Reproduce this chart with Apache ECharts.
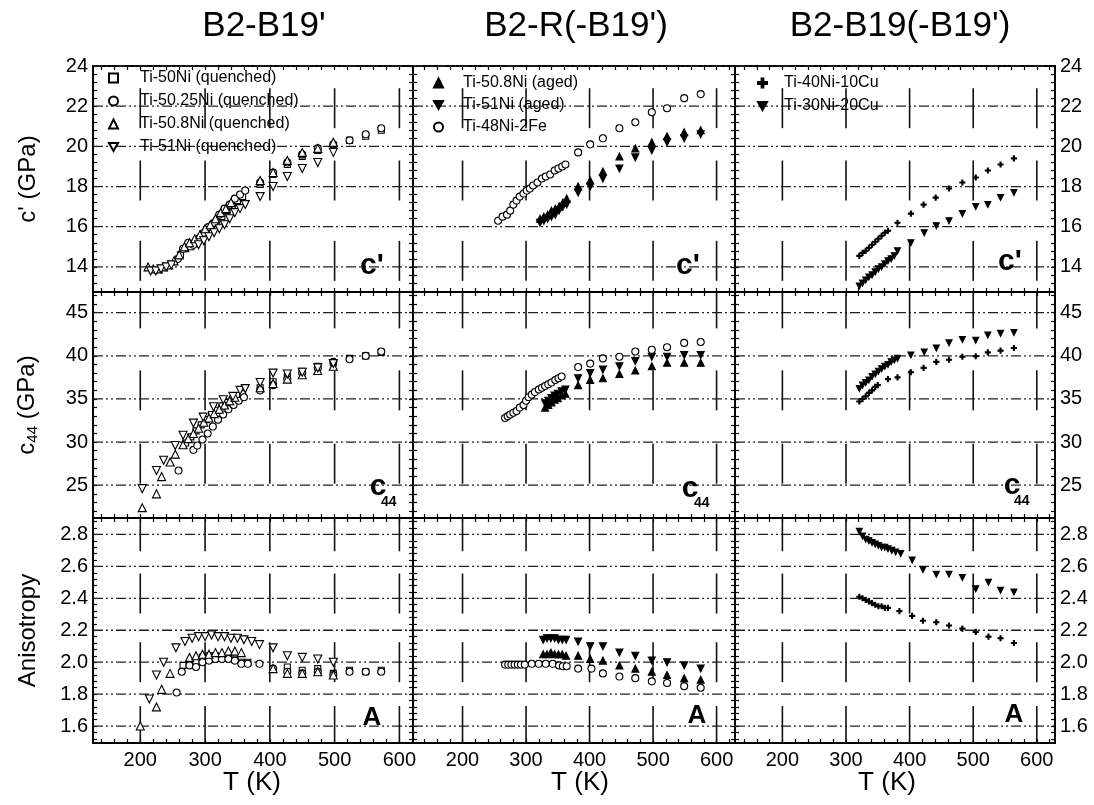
<!DOCTYPE html>
<html>
<head>
<meta charset="utf-8">
<script src="https://cdn.jsdelivr.net/npm/echarts@6/dist/echarts.min.js"></script>
<style>
  html, body { margin: 0; padding: 0; background: #fff; }
  #chart { width: 1094px; height: 805px; }
</style>
</head>
<body>
<div id="chart"></div>
<script>
// ---- data: [T (K), value] ----
// B2-B19' (quenched)
const q50Cp = [[262,14.6],[270,14.9],[278,15.0],[286,15.2],[294,15.5],[302,15.8],[310,16.0],[318,16.3],[326,16.5],[334,16.8],[342,17.0],[350,17.3],[358,17.5],[385,18.1],[405,18.6],[427,19.1],[450,19.5],[474,19.8],[498,20.0],[523,20.3],[548,20.5],[572,20.8]];
const q5025Cp = [[258,14.4],[266,14.9],[274,15.2],[282,15.1],[290,15.4],[298,15.7],[306,16.0],[314,16.2],[322,16.6],[330,16.9],[338,17.1],[346,17.4],[354,17.6],[362,17.8],[385,18.2],[405,18.7],[427,19.2],[450,19.6],[474,19.9],[498,20.1],[523,20.3],[548,20.6],[572,20.9]];
const q508Cp = [[212,14.0],[220,13.9],[228,13.9],[236,14.0],[244,14.1],[252,14.3],[260,14.6],[268,15.0],[276,15.2],[284,15.4],[292,15.6],[300,15.9],[308,16.1],[316,16.4],[324,16.7],[332,16.9],[340,17.2],[385,18.3],[405,18.7],[427,19.3],[450,19.7],[474,19.9],[498,20.2]];
const q51Cp = [[216,13.8],[224,13.8],[232,13.9],[240,14.0],[248,14.1],[290,15.1],[298,15.3],[306,15.5],[314,15.7],[322,15.9],[330,16.1],[338,16.4],[346,16.7],[354,16.9],[362,17.1],[385,17.5],[405,18.0],[427,18.5],[450,18.9],[474,19.2],[498,19.7]];

const q50C44 = [[270,29.9],[278,30.6],[286,31.3],[294,32.0],[302,32.6],[310,33.2],[318,33.7],[326,34.2],[334,34.6],[342,35.0],[350,35.4],[358,35.6],[385,36.3],[405,37.0],[427,37.6],[450,38.2],[474,38.8],[498,39.2],[523,39.7],[548,40.0],[572,40.4]];
const q5025C44 = [[259,26.7],[282,29.1],[288,29.6],[296,30.3],[304,31.0],[312,31.8],[320,32.6],[328,33.2],[336,33.8],[344,34.3],[352,34.8],[360,35.2],[385,36.0],[405,36.6],[427,37.3],[450,38.0],[474,38.6],[498,39.3],[523,39.6],[548,40.0],[572,40.5]];
const q508C44 = [[203,22.4],[225,24.0],[233,26.0],[246,27.7],[254,28.6],[266,29.7],[274,30.4],[282,31.0],[290,31.6],[298,32.3],[306,32.8],[314,33.3],[322,33.8],[330,34.3],[338,34.8],[346,35.2],[385,36.3],[405,36.8],[427,37.3],[450,37.8],[474,38.3],[498,38.8]];
const q51C44 = [[203,24.6],[225,26.7],[236,27.9],[254,29.6],[266,30.8],[282,32.2],[297,32.9],[313,34.1],[328,34.9],[343,35.3],[354,36.0],[362,36.2],[385,36.9],[405,38.0],[427,37.9],[450,38.1],[474,38.6],[498,39.1]];

const q50A = [[266,1.98],[276,2.0],[286,2.0],[296,2.03],[306,2.04],[316,2.04],[326,2.03],[336,2.03],[346,2.02],[356,2.0],[366,2.0],[427,1.97],[450,1.95],[474,1.96],[498,1.93],[523,1.95],[548,1.94],[572,1.95]];
const q5025A = [[256,1.81],[264,1.94],[276,1.98],[286,1.97],[296,2.0],[306,2.01],[316,2.02],[326,2.02],[336,2.02],[346,2.01],[356,1.99],[366,1.99],[384,1.99],[405,1.96],[427,1.94],[450,1.93],[474,1.94],[498,1.92],[523,1.94],[548,1.94],[572,1.94]];
const q508A = [[200,1.6],[225,1.72],[233,1.83],[246,1.93],[276,2.03],[286,2.04],[296,2.05],[306,2.05],[316,2.06],[326,2.06],[336,2.07],[346,2.07],[356,2.06],[405,1.96],[427,1.93],[450,1.93],[474,1.94],[498,1.92]];
const q51A = [[214,1.77],[225,1.92],[236,2.0],[255,2.09],[269,2.13],[280,2.15],[290,2.16],[300,2.16],[310,2.17],[320,2.16],[330,2.16],[340,2.15],[350,2.15],[360,2.14],[372,2.13],[384,2.11],[405,2.09],[427,2.04],[450,2.03],[474,2.02],[498,2.0]];

// B2-R(-B19')
const a508Cp = [[322,16.4],[328,16.5],[334,16.6],[340,16.8],[346,16.9],[352,17.0],[358,17.2],[364,17.4],[382,18.0],[401,18.3],[421,18.75],[447,19.5],[472,19.9],[498,20.2],[522,20.5],[549,20.7],[575,20.8]];
const a51Cp = [[322,16.2],[328,16.3],[334,16.4],[340,16.5],[346,16.6],[352,16.8],[358,17.0],[364,17.1],[382,17.7],[401,18.0],[421,18.4],[447,18.9],[472,19.45],[498,19.8],[522,20.2],[549,20.4],[575,20.6]];
const feCp = [[256,16.3],[263,16.5],[270,16.6],[275,16.8],[280,17.1],[285,17.3],[290,17.5],[296,17.65],[301,17.8],[306,17.9],[311,18.05],[318,18.2],[325,18.4],[331,18.5],[338,18.6],[345,18.8],[351,18.9],[357,19.0],[362,19.1],[382,19.7],[401,20.1],[421,20.4],[447,20.9],[472,21.2],[498,21.7],[522,21.9],[549,22.4],[575,22.6]];

const a508C44 = [[330,34.0],[335,34.3],[340,34.6],[345,34.9],[350,35.1],[356,35.4],[362,35.6],[382,36.6],[401,37.2],[421,37.4],[447,37.9],[472,38.3],[498,38.8],[522,39.2],[549,39.2],[575,39.2]];
const a51C44 = [[330,34.5],[335,34.8],[340,35.1],[345,35.4],[350,35.6],[356,35.9],[362,36.1],[382,37.4],[401,38.0],[421,38.4],[447,38.8],[472,39.4],[498,39.9],[522,39.9],[549,40.1],[575,40.1]];
const feC44 = [[267,32.8],[271,33.0],[275,33.2],[280,33.4],[285,33.6],[290,34.0],[296,34.3],[300,34.8],[304,35.2],[309,35.5],[314,35.8],[320,36.1],[325,36.3],[330,36.5],[335,36.7],[340,36.9],[346,37.2],[351,37.4],[356,37.6],[382,38.7],[401,39.1],[421,39.7],[447,39.9],[472,40.5],[498,40.7],[522,41.0],[549,41.5],[575,41.6]];

const a508A = [[327,2.05],[333,2.05],[339,2.06],[345,2.05],[351,2.05],[357,2.05],[363,2.04],[382,2.04],[401,2.02],[421,2.01],[447,1.98],[472,1.96],[498,1.94],[522,1.92],[549,1.90],[575,1.89]];
const a51A = [[327,2.14],[333,2.15],[339,2.15],[345,2.15],[351,2.14],[357,2.14],[363,2.14],[382,2.13],[401,2.10],[421,2.10],[447,2.06],[472,2.04],[498,2.01],[522,2.0],[549,1.98],[575,1.96]];
const feA = [[267,1.985],[272,1.985],[277,1.985],[282,1.985],[287,1.985],[292,1.985],[298,1.985],[309,1.99],[320,1.99],[331,1.99],[342,1.99],[352,1.98],[358,1.975],[364,1.975],[382,1.96],[403,1.96],[421,1.93],[447,1.91],[472,1.90],[498,1.88],[522,1.87],[549,1.85],[575,1.84]];

// B2-B19(-B19')
const cu10Cp = [[321,14.55],[326,14.7],[331,14.8],[336,14.95],[341,15.1],[346,15.25],[351,15.4],[356,15.55],[361,15.7],[366,15.8],[381,16.2],[402,16.65],[422,17.1],[441,17.45],[462,17.9],[483,18.2],[504,18.45],[523,18.8],[543,19.1],[564,19.4]];
const cu20Cp = [[321,13.05],[326,13.2],[331,13.35],[336,13.5],[341,13.6],[346,13.75],[351,13.9],[356,14.0],[361,14.15],[366,14.3],[371,14.4],[376,14.55],[381,14.8],[402,15.2],[423,15.7],[442,16.05],[462,16.3],[483,16.65],[504,17.0],[523,17.1],[543,17.45],[564,17.7]];
const cu10C44 = [[321,34.7],[326,35.0],[331,35.3],[336,35.7],[341,36.0],[346,36.4],[350,36.6],[366,37.3],[381,37.5],[402,38.1],[422,38.6],[442,39.3],[462,39.55],[483,39.9],[504,39.95],[523,40.4],[543,40.6],[564,40.9]];
const cu20C44 = [[321,36.2],[326,36.6],[331,36.9],[336,37.2],[341,37.6],[346,37.9],[351,38.2],[356,38.5],[361,38.8],[366,39.0],[371,39.3],[376,39.5],[381,39.7],[402,40.1],[423,40.45],[442,40.9],[462,41.5],[483,41.9],[504,41.8],[523,42.4],[543,42.6],[564,42.7]];
const cu10A = [[321,2.41],[326,2.40],[331,2.39],[336,2.38],[341,2.37],[346,2.36],[351,2.35],[356,2.35],[361,2.34],[366,2.34],[384,2.32],[404,2.29],[421,2.26],[442,2.25],[462,2.23],[483,2.21],[504,2.19],[524,2.16],[543,2.15],[564,2.12]];
const cu20A = [[321,2.82],[326,2.79],[331,2.77],[336,2.76],[341,2.75],[346,2.74],[351,2.73],[356,2.72],[361,2.72],[366,2.71],[372,2.70],[378,2.69],[386,2.68],[404,2.64],[421,2.58],[442,2.55],[462,2.55],[483,2.53],[504,2.46],[524,2.50],[543,2.45],[564,2.44]];

const colTitles = ["B2-B19'", "B2-R(-B19')", "B2-B19(-B19')"];
const xTicks = [200, 300, 400, 500, 600];
const cpTicks = [14, 16, 18, 20, 22, 24];
const c44Ticks = [25, 30, 35, 40, 45];
const aTicks = [1.6, 1.8, 2.0, 2.2, 2.4, 2.6, 2.8];

const FONT = '"Liberation Sans", Arial, sans-serif';
const DOWN = 'path://M0,0L10,0L5,8.66Z';
const PLUS = 'path://M4,0H6V4H10V6H6V10H4V6H0V4H4Z';

// layout
const cols = [
  { left: 93, right: 413, xMin: 127, xMax: 621 },
  { left: 413, right: 735, xMin: 122, xMax: 629 },
  { left: 735, right: 1055, xMin: 125.5, xMax: 628.6 }
];
const rows = [
  { top: 66, bottom: 292, yMin: 12.75, yMax: 24, ticks: cpTicks, minor: 0.4, cross: [21.9, 18.3, 14.3], name: "c' (GPa)" },
  { top: 292, bottom: 518, yMin: 21.2, yMax: 47.4, ticks: c44Ticks, minor: 1, cross: [45.5, 36, 27.5], name: '{c|c}{s|44}{n| (GPa)}' },
  { top: 518, bottom: 743, yMin: 1.494, yMax: 2.903, ticks: aTicks, minor: 0.04, cross: [2.82, 2.43, 2.0, 1.6], name: 'Anisotropy' }
];

const groups = [
  [
    { name: 'Ti-50Ni (quenched)', symbol: 'rect', size: 6, fill: '#fff', data: [q50Cp, q50C44, q50A] },
    { name: 'Ti-50.25Ni (quenched)', symbol: 'circle', size: 7, fill: '#fff', data: [q5025Cp, q5025C44, q5025A] },
    { name: 'Ti-50.8Ni (quenched)', symbol: 'triangle', size: 8, fill: '#fff', data: [q508Cp, q508C44, q508A] },
    { name: 'Ti-51Ni (quenched)', symbol: DOWN, size: 8, fill: '#fff', data: [q51Cp, q51C44, q51A] }
  ],
  [
    { name: 'Ti-50.8Ni (aged)', symbol: 'triangle', size: 7, fill: '#000', data: [a508Cp, a508C44, a508A] },
    { name: 'Ti-51Ni (aged)', symbol: DOWN, size: 7, fill: '#000', data: [a51Cp, a51C44, a51A] },
    { name: 'Ti-48Ni-2Fe', symbol: 'circle', size: 7, fill: '#fff', data: [feCp, feC44, feA] }
  ],
  [
    { name: 'Ti-40Ni-10Cu', symbol: PLUS, size: 5, fill: '#000', data: [cu10Cp, cu10C44, cu10A] },
    { name: 'Ti-30Ni-20Cu', symbol: DOWN, size: 6, fill: '#000', data: [cu20Cp, cu20C44, cu20A] }
  ]
];

function steps(min, max, step) {
  const out = [];
  for (let k = Math.ceil(min / step - 1e-6); k * step <= max + 1e-6; k++) {
    out.push(+(k * step).toFixed(4));
  }
  return out;
}

const grid = [], xAxis = [], yAxis = [], series = [];
const axisLine = { show: true, onZero: false, lineStyle: { color: '#000', width: 2 } };

rows.forEach(function (row, r) {
  cols.forEach(function (col, c) {
    const g = grid.length;
    grid.push({ left: col.left, top: row.top, width: col.right - col.left, height: row.bottom - row.top, containLabel: false });

    ['bottom', 'top'].forEach(function (pos) {
      xAxis.push({
        gridIndex: g, type: 'value', position: pos, min: col.xMin, max: col.xMax,
        axisLine: axisLine,
        axisTick: { show: true, inside: true, length: 4, customValues: steps(col.xMin, col.xMax, 20), lineStyle: { color: '#000', width: 1.2 } },
        axisLabel: { show: pos === 'bottom' && r === 2, customValues: xTicks, fontSize: 20, margin: 7, color: '#000', fontFamily: FONT },
        splitLine: { show: false }
      });
    });
    ['left', 'right'].forEach(function (pos) {
      const showLab = (pos === 'left' && c === 0) || (pos === 'right' && c === 2);
      const ax = {
        gridIndex: g, type: 'value', position: pos, min: row.yMin, max: row.yMax,
        axisLine: axisLine,
        axisTick: { show: true, inside: true, length: 4, customValues: steps(row.yMin, row.yMax, row.minor), lineStyle: { color: '#000', width: 1.2 } },
        axisLabel: {
          show: showLab, customValues: row.ticks, fontSize: 20, margin: 5, color: '#000', fontFamily: FONT,
          formatter: function (v) { return r === 2 ? v.toFixed(1) : String(Math.round(v)); }
        },
        splitLine: { show: false }
      };
      if (pos === 'left' && c === 0) {
        ax.name = row.name;
        ax.nameLocation = 'middle';
        ax.nameRotate = 90;
        ax.nameGap = 53;
        ax.nameTextStyle = {
          fontSize: 24, color: '#000', fontFamily: FONT,
          rich: {
            c: { fontSize: 24, fontFamily: FONT, color: '#000' },
            s: { fontSize: 15, fontFamily: FONT, color: '#000', padding: [10, 0, 0, 0] },
            n: { fontSize: 24, fontFamily: FONT, color: '#000' }
          }
        };
      }
      yAxis.push(ax);
    });

    const xi = 2 * g, yi = 2 * g;
    // horizontal dash-dot grid lines
    series.push({
      type: 'custom', xAxisIndex: xi, yAxisIndex: yi, silent: true, z: 1,
      data: row.ticks.map(function (v) { return [col.xMin, v]; }),
      renderItem: function (params, api) {
        const a = api.coord([col.xMin, api.value(1)]);
        const b = api.coord([col.xMax, api.value(1)]);
        return { type: 'line', shape: { x1: a[0], y1: a[1], x2: b[0], y2: b[1] },
          style: { stroke: '#222', lineWidth: 1.3, lineDash: [10, 3, 2, 3, 2, 3] } };
      }
    });
    // vertical grid segments
    series.push({
      type: 'custom', xAxisIndex: xi, yAxisIndex: yi, silent: true, z: 1,
      data: xTicks.map(function (v) { return [v, row.yMin]; }),
      renderItem: function (params, api) {
        const cs = params.coordSys;
        const xv = api.value(0);
        return {
          type: 'group',
          children: row.cross.map(function (cv) {
            const p = api.coord([xv, cv]);
            return { type: 'line',
              shape: { x1: p[0], y1: Math.max(cs.y, p[1] - 20), x2: p[0], y2: Math.min(cs.y + cs.height, p[1] + 20) },
              style: { stroke: '#111', lineWidth: 1.6 } };
          })
        };
      }
    });

    groups[c].forEach(function (s) {
      series.push({
        name: s.name, type: 'scatter', xAxisIndex: xi, yAxisIndex: yi, z: 5,
        symbol: s.symbol, symbolSize: s.size, data: s.data[r],
        itemStyle: { color: s.fill, borderColor: '#000', borderWidth: 1.1, opacity: 1 },
        emphasis: { disabled: true }
      });
    });
  });
});

const legendText = { fontSize: 16, color: '#000', fontFamily: FONT, lineHeight: 20 };
const legend = [
  { left: 108, top: 68, itemGap: 3, pad: 17, names: groups[0] },
  { left: 433, top: 73, itemGap: 2, pad: 15, names: groups[1] },
  { left: 757, top: 73, itemGap: 3, pad: 12, names: groups[2] }
].map(function (l) {
  return {
    left: l.left, top: l.top, orient: 'vertical', itemGap: l.itemGap, itemWidth: 9, itemHeight: 9,
    selectedMode: false, padding: 0,
    data: l.names.map(function (s) { return s.name; }),
    textStyle: Object.assign({ padding: [0, 0, 0, l.pad] }, legendText)
  };
});

function txt(text, x, y, size, bold, align) {
  return { type: 'text', silent: true, z: 10,
    style: { text: text, x: x, y: y, fill: '#000',
      font: (bold ? 'bold ' : '') + size + 'px ' + FONT,
      textAlign: align || 'center', align: align || 'center',
      textVerticalAlign: 'middle', verticalAlign: 'middle' } };
}

const graphic = [
  txt(colTitles[0], 264, 26, 35), txt(colTitles[1], 576, 26, 35), txt(colTitles[2], 900, 26, 35),
  txt('T (K)', 252, 783, 26), txt('T (K)', 580, 783, 26), txt('T (K)', 887, 783, 26),
  txt("c'", 372, 266, 30, true), txt("c'", 688, 266, 30, true), txt("c'", 1010, 262, 30, true),
  txt('c', 378, 487, 30, true), txt('44', 381, 502, 14, true, 'left'),
  txt('c', 690, 489, 30, true), txt('44', 694, 503, 14, true, 'left'),
  txt('c', 1012, 486, 30, true), txt('44', 1014, 501, 14, true, 'left'),
  txt('A', 372, 718, 26, true), txt('A', 697, 716, 26, true), txt('A', 1014, 715, 26, true)
];

const chart = echarts.init(document.getElementById('chart'), null, { renderer: 'canvas' });
chart.setOption({
  animation: false,
  backgroundColor: '#fff',
  textStyle: { fontFamily: FONT },
  grid: grid,
  xAxis: xAxis,
  yAxis: yAxis,
  legend: legend,
  graphic: graphic,
  series: series
});
</script>
</body>
</html>
